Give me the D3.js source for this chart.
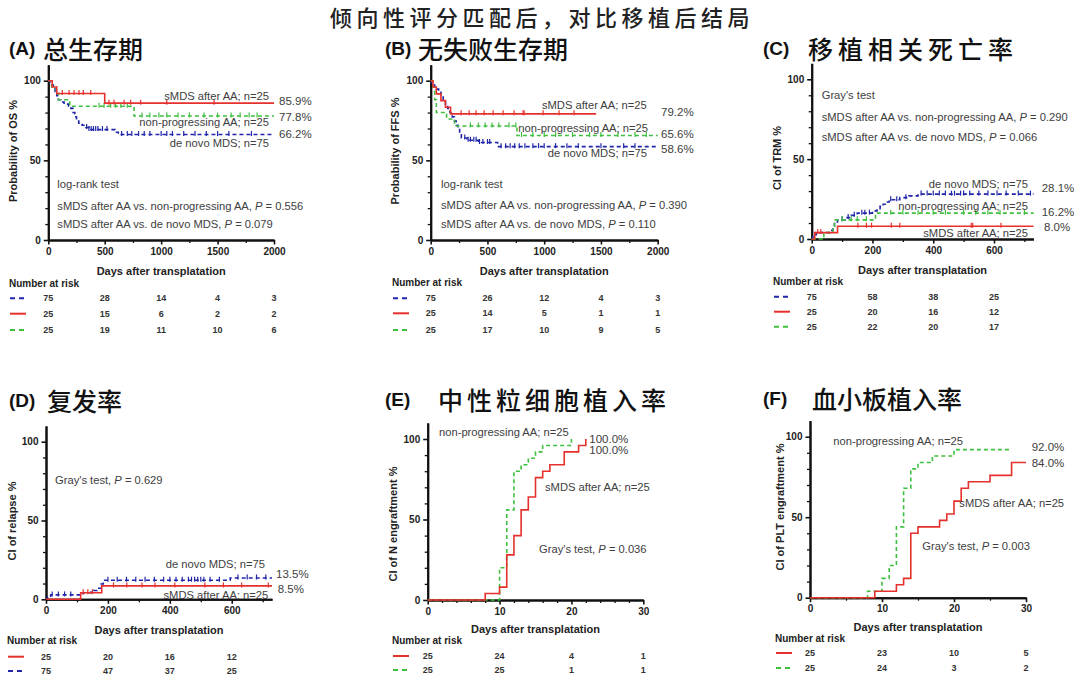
<!DOCTYPE html>
<html><head><meta charset="utf-8">
<script src="https://cdn.jsdelivr.net/npm/d3@7"></script>
<style>body{margin:0;background:#fff}svg{display:block}</style>
</head><body>
<svg id="chart" width="1080" height="679"></svg>
<script>
// ---------------- DATA ----------------
const mainTitle = "倾向性评分匹配后，对比移植后结局";
const panelLetters = ["(A)", "(B)", "(C)", "(D)", "(E)", "(F)"];
const panelTitles = ["总生存期", "无失败生存期", "移植相关死亡率", "复发率", "中性粒细胞植入率", "血小板植入率"];
const yTitles = ["Probability of OS %", "Probability of FFS %", "CI of TRM %", "CI of relapse %", "CI of N engraftment %", "CI of PLT engraftment %"];
const xTitle = "Days after transplatation";
const riskTitle = "Number at risk";

// (A) Overall survival: [day, %] change points
const osSmds = [[0,100],[35,96],[75,92],[500,85.9]];
const osNonProg = [[0,100],[30,96],[70,92],[90,88],[190,84],[760,77.8]];
const osDeNovo = [[0,100],[15,98.7],[30,97.3],[45,96],[60,93.3],[75,90.6],[90,88],[110,86.6],[140,85.3],[180,84],[200,82.6],[220,80],[235,77.3],[250,74.6],[270,73.3],[300,72],[330,70.6],[360,69.3],[590,67.6],[620,66.2]];
const osSmdsCens = [124,184,228,272,310,376,538,583,672,730,819,1050,1469];
const osNonProgCens = [450,494,553,597,642,700,830,900,980,1050,1150,1250,1380,1500,1620,1700,1780,1850];
const osDeNovoCens = [340,360,380,400,420,440,480,520,650,700,740,800,850,900,1000,1050,1100,1200,1300,1400,1500,1600,1800];
const osRisk = { deNovo:[75,28,14,4,3], smds:[25,15,6,2,2], nonProg:[25,19,11,10,6] };
const osPValues = ["0.556", "0.079"];

// (B) Failure-free survival
const ffsSmds = [[0,100],[20,96],[50,91.7],[90,87.5],[130,83.3],[175,79.2]];
const ffsNonProg = [[0,100],[20,96],[35,88],[50,80],[140,76],[210,71.6],[760,65.6]];
const ffsDeNovo = [[0,100],[10,98.7],[20,97.3],[35,96],[50,94.7],[70,93.3],[90,90.6],[110,88],[130,85.3],[150,82.6],[170,80],[190,77.3],[210,74.6],[225,72],[240,69.3],[255,66.6],[270,64],[320,62.6],[420,61.2],[590,58.6]];
const ffsSmdsCens = [268,339,400,471,550,638,735,814,823,990,1131,1263];
const ffsNonProgCens = [350,420,480,540,600,690,750,800,900,1000,1100,1250,1400,1500,1650,1800,1900];
const ffsDeNovoCens = [300,330,350,380,400,430,460,500,520,620,660,700,740,780,830,900,950,1000,1100,1200,1300,1500,1700,1800];
const ffsRisk = { deNovo:[75,26,12,4,3], smds:[25,14,5,1,1], nonProg:[25,17,10,9,5] };
const ffsPValues = ["0.390", "0.110"];

// (C) Transplant-related mortality
const trmSmds = [[0,0],[10,4],[85,8]];
const trmNonProg = [[0,0],[40,4],[70,8],[75,12],[210,16.2]];
const trmDeNovo = [[0,0],[3,1.3],[8,2.7],[15,4],[60,5.4],[70,8],[75,10.7],[85,12],[110,13.4],[130,14.8],[150,16.2],[200,17.6],[215,19],[225,20.4],[235,21.8],[245,23.2],[255,24.6],[290,25.9],[320,27],[350,28.1]];
const trmSmdsCens = [20,30,152,180,197,262,290,525,530,623];
const trmNonProgCens = [100,130,150,180,260,300,350,400,440,500,540,580,620,700];
const trmDeNovoCens = [100,120,140,165,175,190,260,280,310,360,380,400,420,440,460,470,490,500,520,550,580,610,640,680,720];
const trmRisk = { deNovo:[75,58,38,25], smds:[25,20,16,12], nonProg:[25,22,20,17] };
const trmPValues = ["0.290", "0.066"];

// (D) Relapse
const relSmds = [[0,0],[112,4.2],[180,8.5]];
const relDeNovo = [[0,0],[5,1.4],[15,2.8],[120,4.2],[145,5.6],[165,7],[178,9.7],[185,12.1],[595,13.5]];
const relSmdsCens = [120,135,150,218,261,310,352,416,513,573,632,718];
const relDeNovoCens = [20,40,60,80,200,230,260,290,320,350,380,400,420,440,460,470,480,490,500,510,530,560,620,650,680,710];
const relRisk = { smds:[25,20,16,12], deNovo:[75,47,37,25] };
const relPValue = "0.629";

// (E) Neutrophil engraftment
const neuSmds = [[0,0],[8,4],[10,8],[11,28],[12,40],[13,56],[14,64],[15,76],[16,80],[17,84],[19,92],[21,96],[22,100]];
const neuNonProg = [[0,0],[10,20],[11,56],[12,80],[13,84],[14,88],[15,92],[16,96],[20,100]];
const neuRisk = { smds:[25,24,4,1], nonProg:[25,25,1,1] };
const neuPValue = "0.036";

// (F) Platelet engraftment
const pltSmds = [[0,0],[9,4],[12,8],[13,12],[14,40],[15,44],[18,48],[19,52],[20,60],[21,68],[22,72],[25,76],[28,84]];
const pltNonProg = [[0,0],[8,4],[10,12],[11,20],[12,44],[13,68],[14,80],[15,84],[17,88],[20,92]];
const pltRisk = { smds:[25,23,10,5], nonProg:[25,24,3,2] };
const pltPValue = "0.003";

// ---------------- STYLE ----------------
const RED = "#e5302c", BLUE = "#2126a8", GREEN = "#3fbf3f";
const TXT = "#404040";
const LAT = "'Liberation Sans', Arial, sans-serif";
const CJK = "'Noto Sans CJK SC', sans-serif";
const styleOf = {
  smds: {color: RED, dash: null},
  deNovo: {color: BLUE, dash: "4,3"},
  nonProg: {color: GREEN, dash: "4,3"}
};

const svg = d3.select("#chart");
svg.append("rect").attr("width",1080).attr("height",679).attr("fill","#fff");

svg.append("text").attr("x",542).attr("y",26).attr("text-anchor","middle")
  .attr("font-family",CJK).attr("font-size",22).attr("font-weight",500)
  .attr("letter-spacing",4.5).attr("fill","#222").text(mainTitle);

function valueAt(steps, t){
  let v = steps[0][1];
  for (const s of steps) { if (s[0] <= t) v = s[1]; }
  return v;
}

function drawPanel(cfg){
  const g = svg.append("g");
  const x = d3.scaleLinear().domain([0, cfg.xMax]).range([cfg.x0, cfg.x1]);
  const k = (cfg.y0 - cfg.y100) / 100;
  const y = d3.scaleLinear().domain([0, 110]).range([cfg.y0, cfg.y0 - 110 * k]);

  // titles
  g.append("text").attr("x", cfg.tx).attr("y", cfg.ty).attr("dominant-baseline","central")
    .attr("font-family", LAT).attr("font-weight","bold").attr("font-size",19).attr("fill","#111")
    .text(panelLetters[cfg.i]);
  g.append("text").attr("x", cfg.cx).attr("y", cfg.ty).attr("dominant-baseline","central")
    .attr("font-family", CJK).attr("font-size",25).attr("font-weight",500).attr("letter-spacing", cfg.ls || 0).attr("fill","#111")
    .text(panelTitles[cfg.i]);

  // axes
  const styleAxis = (sel, w) => {
    sel.select(".domain").attr("stroke","#111").attr("stroke-width",2);
    sel.selectAll(".tick line").attr("stroke","#111").attr("stroke-width",w);
    sel.selectAll(".tick text").attr("font-family",LAT).attr("font-weight","bold")
      .attr("font-size",10).attr("fill","#222");
  };
  g.append("g").attr("transform",`translate(0,${cfg.y0})`)
    .call(d3.axisBottom(x).tickValues(cfg.xMinor).tickSize(3).tickSizeOuter(0).tickFormat(""))
    .call(s => styleAxis(s, 1.3));
  g.append("g").attr("transform",`translate(0,${cfg.y0})`)
    .call(d3.axisBottom(x).tickValues(cfg.xTicks).tickSize(4.5).tickPadding(3).tickSizeOuter(0).tickFormat(d3.format("d")))
    .call(s => styleAxis(s, 1.6));
  g.append("g").attr("transform",`translate(${cfg.x0},0)`)
    .call(d3.axisLeft(y).tickValues(d3.range(10,110,10).filter(v=>v%50)).tickSize(3).tickSizeOuter(0).tickFormat(""))
    .call(s => styleAxis(s, 1.3));
  g.append("g").attr("transform",`translate(${cfg.x0},0)`)
    .call(d3.axisLeft(y).tickValues([0,50,100]).tickSize(4.5).tickPadding(3).tickSizeOuter(0))
    .call(s => styleAxis(s, 1.6));

  // axis titles
  g.append("text").attr("x",(cfg.x0+cfg.x1)/2).attr("y",cfg.xTitleY).attr("text-anchor","middle")
    .attr("dominant-baseline","central").attr("font-family",LAT).attr("font-weight","bold")
    .attr("font-size",11).attr("fill","#222").text(xTitle);
  g.append("text").attr("transform",`translate(${cfg.yTitleX},${cfg.yTitleY}) rotate(-90)`)
    .attr("text-anchor","middle").attr("dominant-baseline","central").attr("font-family",LAT)
    .attr("font-weight","bold").attr("font-size",11).attr("fill","#222").text(yTitles[cfg.i]);

  // curves
  const line = d3.line().x(d=>x(d[0])).y(d=>y(d[1])).curve(d3.curveStepAfter);
  cfg.series.forEach(s => {
    const st = styleOf[s.key];
    const pts = s.steps.concat([[s.end, s.steps[s.steps.length-1][1]]]);
    g.append("path").attr("d", line(pts)).attr("fill","none").attr("stroke",st.color)
      .attr("stroke-width",1.6).attr("stroke-dasharray",st.dash);
    (s.cens || []).forEach(t => {
      const v = valueAt(s.steps, t);
      g.append("line").attr("x1",x(t)).attr("x2",x(t)).attr("y1",y(v)-3.5).attr("y2",y(v)+1.5)
        .attr("stroke",st.color).attr("stroke-width",1.2);
    });
  });

  // annotations
  cfg.labels.forEach(l => {
    const t = g.append("text").attr("x",l[1]).attr("y",l[2]).attr("text-anchor",l[3]||"start")
      .attr("dominant-baseline","central").attr("font-family",LAT).attr("font-size",l[4]||11.2).attr("fill",TXT);
    const parts = l[0].split("|P|");
    if (parts.length > 1) {
      t.append("tspan").text(parts[0]);
      t.append("tspan").attr("font-style","italic").text("P");
      t.append("tspan").text(parts[1]);
    } else t.text(l[0]);
  });

  // risk table
  g.append("text").attr("x",cfg.rx).attr("y",cfg.ry[0]).attr("dominant-baseline","central")
    .attr("font-family",LAT).attr("font-weight","bold").attr("font-size",10).attr("fill","#222").text(riskTitle);
  cfg.riskRows.forEach((key, r) => {
    const st = styleOf[key];
    const yy = cfg.ry[r+1];
    g.append("line").attr("x1",cfg.rx+1).attr("x2",cfg.rx+17).attr("y1",yy).attr("y2",yy)
      .attr("stroke",st.color).attr("stroke-width",2).attr("stroke-dasharray", st.dash ? "5,4" : null);
    cfg.risk[key].forEach((n, j) => {
      g.append("text").attr("x", x(cfg.xTicks[j])).attr("y", yy).attr("text-anchor","middle")
        .attr("dominant-baseline","central").attr("font-family",LAT).attr("font-weight","bold")
        .attr("font-size",9).attr("fill","#333").text(n);
    });
  });
}

const pLine1 = "sMDS after AA vs. non-progressing AA, |P| = ";
const pLine2 = "sMDS after AA vs. de novo MDS, |P| = ";

drawPanel({i:0, xMax:2000, x0:48.3, x1:274, y0:240, y100:80.7,
  xTicks:[0,500,1000,1500,2000], xMinor:[250,750,1250,1750],
  tx:9, cx:43, ty:48, xTitleY:271, yTitleX:13, yTitleY:151,
  series:[{key:"deNovo",steps:osDeNovo,end:2000,cens:osDeNovoCens},
          {key:"nonProg",steps:osNonProg,end:2000,cens:osNonProgCens},
          {key:"smds",steps:osSmds,end:2000,cens:osSmdsCens}],
  labels:[["sMDS after AA; n=25",269,96,"end"],["85.9%",279,101,"start",11.5],
          ["77.8%",279,117,"start",11.5],["non-progressing AA; n=25",269,121.7,"end"],
          ["66.2%",279,134,"start",11.5],["de novo MDS; n=75",269,143,"end"],
          ["log-rank test",57.3,184],[pLine1+osPValues[0],57.3,205.7],[pLine2+osPValues[1],57.3,224]],
  rx:9, ry:[283,298.3,313.7,330], riskRows:["deNovo","smds","nonProg"], risk:osRisk});

drawPanel({i:1, xMax:2000, x0:430.7, x1:657.7, y0:240, y100:80.7,
  xTicks:[0,500,1000,1500,2000], xMinor:[250,750,1250,1750],
  tx:385, cx:418, ty:48, xTitleY:271, yTitleX:395, yTitleY:151,
  series:[{key:"deNovo",steps:ffsDeNovo,end:2000,cens:ffsDeNovoCens},
          {key:"nonProg",steps:ffsNonProg,end:2000,cens:ffsNonProgCens},
          {key:"smds",steps:ffsSmds,end:1458,cens:ffsSmdsCens}],
  labels:[["sMDS after AA; n=25",646.7,105,"end"],["79.2%",661,111.7,"start",11.5],
          ["non-progressing AA; n=25",648,127.7,"end"],["65.6%",661,134,"start",11.5],
          ["58.6%",661,149,"start",11.5],["de novo MDS; n=75",647,152.7,"end"],
          ["log-rank test",441,184],[pLine1+ffsPValues[0],441,205],[pLine2+ffsPValues[1],441,224.3]],
  rx:392, ry:[282.7,298.3,313.3,330], riskRows:["deNovo","smds","nonProg"], risk:ffsRisk});

drawPanel({i:2, xMax:730, x0:811.7, x1:1033.5, y0:239, y100:79.3,
  xTicks:[0,200,400,600], xMinor:[100,300,500,700],
  tx:763, cx:808, ls:5, ty:48, xTitleY:270, yTitleX:777, yTitleY:158,
  series:[{key:"deNovo",steps:trmDeNovo,end:730,cens:trmDeNovoCens},
          {key:"nonProg",steps:trmNonProg,end:730,cens:trmNonProgCens},
          {key:"smds",steps:trmSmds,end:730,cens:trmSmdsCens}],
  labels:[["Gray's test",821.7,95],[pLine1+trmPValues[0],821.7,117.3],[pLine2+trmPValues[1],821.7,136.7],
          ["de novo MDS; n=75",1028,184,"end"],["28.1%",1041.7,187.7,"start",11.5],
          ["non-progressing AA; n=25",1028,206,"end"],["16.2%",1041.7,212,"start",11.5],
          ["8.0%",1044,226.7,"start",11.5],["sMDS after AA; n=25",1028,232.7,"end"]],
  rx:773, ry:[281.7,296.7,311.7,326.7], riskRows:["deNovo","smds","nonProg"], risk:trmRisk});

drawPanel({i:3, xMax:730, x0:46, x1:272, y0:599.3, y100:441.7,
  xTicks:[0,200,400,600], xMinor:[100,300,500,700],
  tx:9, cx:47, ty:400, xTitleY:630, yTitleX:12.3, yTitleY:521,
  series:[{key:"deNovo",steps:relDeNovo,end:730,cens:relDeNovoCens},
          {key:"smds",steps:relSmds,end:730,cens:relSmdsCens}],
  labels:[["Gray's test, |P| = "+relPValue,55,480],["de novo MDS; n=75",265,564.3,"end"],
          ["13.5%",276,574,"start",11.5],["8.5%",277.7,589,"start",11.5],["sMDS after AA; n=25",268.3,595,"end"]],
  rx:7, ry:[640.7,656.7,671], riskRows:["smds","deNovo"], risk:relRisk});

drawPanel({i:4, xMax:30, x0:427.7, x1:643.3, y0:600, y100:439,
  xTicks:[0,10,20,30], xMinor:[2,4,6,8,12,14,16,18,22,24,26,28],
  tx:385, cx:438, ls:4, ty:399, xTitleY:629, yTitleX:393.3, yTitleY:524,
  series:[{key:"nonProg",steps:neuNonProg,end:20},
          {key:"smds",steps:neuSmds,end:22}],
  labels:[["non-progressing AA; n=25",439,432.3],["100.0%",589.3,439,"start",11.5],
          ["100.0%",589.3,450,"start",11.5],["sMDS after AA; n=25",545,487.3],
          ["Gray's test, |P| = "+neuPValue,539,549]],
  rx:392, ry:[640.7,656,670], riskRows:["smds","nonProg"], risk:neuRisk});

drawPanel({i:5, xMax:30, x0:810, x1:1026, y0:597.7, y100:436.7,
  xTicks:[0,10,20,30], xMinor:[5,15,25],
  tx:763, cx:812, ty:398, xTitleY:627, yTitleX:780, yTitleY:507,
  series:[{key:"nonProg",steps:pltNonProg,end:28},
          {key:"smds",steps:pltSmds,end:30}],
  labels:[["non-progressing AA; n=25",833.3,441],["92.0%",1031.7,446.7,"start",11.5],
          ["84.0%",1031.7,462.7,"start",11.5],["sMDS after AA; n=25",959.3,502.7],
          ["Gray's test, |P| = "+pltPValue,922.3,545.7]],
  rx:775, ry:[638,653,668], riskRows:["smds","nonProg"], risk:pltRisk});
</script>
</body></html>
